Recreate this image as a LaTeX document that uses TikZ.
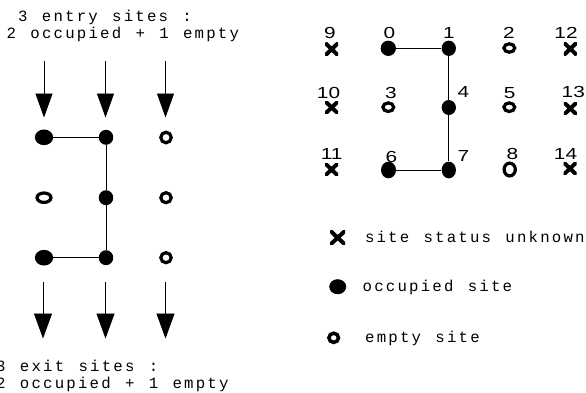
\documentclass[tikz,border=0pt]{standalone}
\usepackage{fontspec}
\usetikzlibrary{shapes.geometric,arrows.meta}
\newfontfamily\courfont[LetterSpace=14,WordSpace=1.234]{Liberation Mono}
\newfontfamily\numfont[FakeStretch=1.3]{Liberation Sans}
\tikzset{
  occ/.style args={#1x#2}{ellipse, fill=black, draw=none, inner sep=0pt, minimum width=#1pt, minimum height=#2pt},
  emp/.style args={#1x#2}{ellipse, draw=black, line width=3.2pt, fill=none, inner sep=0pt, minimum width=#1pt, minimum height=#2pt},
  xmk/.style args={#1x#2}{rectangle, draw=none, inner sep=0pt, minimum width=#1pt, minimum height=#2pt,
    path picture={\draw[line width=4pt] (path picture bounding box.south west) -- (path picture bounding box.north east)
      (path picture bounding box.north west) -- (path picture bounding box.south east);}},
  lbl/.style={inner sep=0pt, font=\numfont\fontsize{16}{18}\selectfont},
  txt/.style={inner sep=0pt, anchor=base west, font=\courfont\fontsize{15.7}{19}\selectfont},
  conn/.style={line width=0.9pt, draw=black},
  inarrow/.style={line width=0.9pt, -{Triangle[length=24pt,width=17pt]}},
  outarrow/.style={line width=0.9pt, -{Triangle[length=25pt,width=18pt]}}
}
\begin{document}
\begin{tikzpicture}[x=1pt,y=-1pt]
\useasboundingbox (0,0) rectangle (586,392);
% ---------- left panel ----------
\node[txt] (t1) at (18,21.6) {3 entry sites :};
\node[txt] (t2) at (6.5,38.3) {2 occupied + 1 empty};
\node[txt] (b1) at (-4,371.7) {3 exit sites :};
\node[txt] (b2) at (-4,388.3) {2 occupied + 1 empty};

\coordinate (ia1) at (44,61);   \coordinate (ib1) at (44,117.5);
\coordinate (ia2) at (105.5,61); \coordinate (ib2) at (105.5,117.5);
\coordinate (ia3) at (165.5,61); \coordinate (ib3) at (165.5,117.5);
\coordinate (oa1) at (43,282);   \coordinate (ob1) at (43,338.5);
\coordinate (oa2) at (105.5,282); \coordinate (ob2) at (105.5,338.5);
\coordinate (oa3) at (165.5,282); \coordinate (ob3) at (165.5,338.5);
\foreach \i in {1,2,3}{
  \draw[inarrow] (ia\i) -- (ib\i);
  \draw[outarrow] (oa\i) -- (ob\i);
}

\node[occ=18.3x15.7] (L1) at (44,137.3) {};
\node[occ=14.5x15] (L2) at (106,137.3) {};
\node[emp=10.4x10.6] (L3) at (166,137.5) {};
\node[emp=14x9.4] (L4) at (44,197.7) {};
\node[occ=14.5x15] (L5) at (106,197.7) {};
\node[emp=10.4x10] (L6) at (166,197.7) {};
\node[occ=18.3x15.7] (L7) at (44,257.7) {};
\node[occ=14.5x15] (L8) at (106,257.7) {};
\node[emp=10.4x10] (L9) at (166,257.7) {};
\draw[conn] (L1) -- (L2);
\draw[conn] (L2) -- (L5) -- (L8);
\draw[conn] (L7) -- (L8);

% ---------- right panel ----------
\node[xmk=13x12.5] (R9) at (331.7,49.2) {};
\node[occ=15.3x15.3] (R0) at (388.3,48.3) {};
\node[occ=14.3x15.3] (R1) at (448.8,48.3) {};
\node[emp=10.8x8.4] (R2) at (509.3,48) {};
\node[xmk=13x12.5] (R12) at (570.3,48.8) {};

\node[xmk=13x12.5] (R10) at (331.7,107.5) {};
\node[emp=10.8x8.6] (R3) at (388.3,107.2) {};
\node[occ=14.3x15] (R4) at (448.8,107.5) {};
\node[emp=10.8x8.6] (R5) at (509.3,107.2) {};
\node[xmk=13x12.5] (R13) at (570.3,108.5) {};

\node[xmk=13x12.5] (R11) at (331.5,169.5) {};
\node[occ=15x16.7] (R6) at (388.5,170) {};
\node[occ=14.3x16.7] (R7) at (448.8,170) {};
\node[emp=11.2x12.8] (R8) at (509.7,169.5) {};
\node[xmk=13x12.5] (R14) at (570,168.5) {};

\draw[conn] (R0) -- (R1);
\draw[conn] (R1) -- (R4) -- (R7);
\draw[conn] (R6) -- (R7);

\node[lbl] (l9) at (330,32.5) {9};
\node[lbl] (l0) at (389.5,32.5) {0};
\node[lbl] (l1) at (449,32.5) {1};
\node[lbl] (l2) at (509,33.3) {2};
\node[lbl] (l12) at (566,33) {12};
\node[lbl] (l10) at (328.5,92.5) {10};
\node[lbl] (l3) at (391,92.5) {3};
\node[lbl] (l4) at (463.5,92) {4};
\node[lbl] (l5) at (509.7,93.3) {5};
\node[lbl] (l13) at (573.3,92) {13};
\node[lbl] (l11) at (331.7,154.2) {11};
\node[lbl] (l6) at (391.3,156.5) {6};
\node[lbl] (l7) at (463.5,156) {7};
\node[lbl] (l8) at (512.5,154) {8};
\node[lbl] (l14) at (565.5,154) {14};

% ---------- legend ----------
\node[xmk=15x14] (kx) at (337.7,237.7) {};
\node[occ=17x15] (ko) at (337.7,286.7) {};
\node[emp=9.6x9.2,line width=3.5pt] (ke) at (333.7,337.8) {};
\node[txt] (kxt) at (364.8,242.7) {site status unknown};
\node[txt] (kot) at (362.5,291.7) {occupied site};
\node[txt] (ket) at (365,342.7) {empty site};
\end{tikzpicture}
\end{document}
